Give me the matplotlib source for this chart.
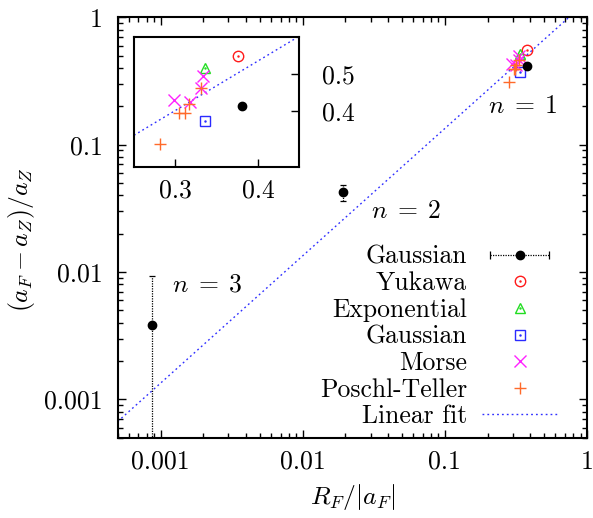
import matplotlib
matplotlib.use('Agg')
import numpy as np
import matplotlib.pyplot as plt
from matplotlib.lines import Line2D
from matplotlib.legend_handler import HandlerLine2D, HandlerTuple
from matplotlib.ticker import NullFormatter

plt.rcParams['font.family'] = ['cmr10', 'DejaVu Serif']
plt.rcParams['mathtext.fontset'] = 'cm'
plt.rcParams['axes.unicode_minus'] = False
plt.rcParams['font.size'] = 18.5

# Gaussian (n = 1, 2, 3) with error bars
gauss_x = [0.381, 0.0192, 0.00087]
gauss_y = [0.415, 0.0423, 0.00385]
gauss_err = [0.0, 0.006, 0.0054]

# n = 1 cluster
yuk_x = [0.376]
yuk_y = [0.549]
exp_x = [0.3355]
exp_y = [0.518]
gsq_x = [0.336]
gsq_y = [0.374]
morse_x = [0.333, 0.331, 0.298, 0.318]
morse_y = [0.495, 0.464, 0.430, 0.425]
pt_x = [0.331, 0.3165, 0.305, 0.312, 0.281]
pt_y = [0.464, 0.419, 0.394, 0.395, 0.311]

fit_slope = 1.34
fit_x_main = [5e-4, 1.0]
fit_x_inset = [0.25, 0.45]

ticks_main = [0.001, 0.01, 0.1, 1]
tick_labels_main = ['0.001', '0.01', '0.1', '1']
ticks_in_x = [0.3, 0.4]
ticks_in_y = [0.4, 0.5]

c_red = '#ff1a1a'
c_green = '#22dd22'
c_blue = '#2a2aff'
c_mag = '#ff22ff'
c_orange = '#ff6a2a'
c_fit = '#3030ff'

fig = plt.figure(figsize=(5.93, 5.18), dpi=100)
ax = fig.add_axes([0.1985, 0.155, 0.7914, 0.8116])


def draw(a):
    eb = a.errorbar(gauss_x, gauss_y, yerr=gauss_err, fmt='o', color='k', ms=6,
                    capsize=2.5, elinewidth=0.9, capthick=0.9, zorder=3)
    eb[2][0].set_linestyle((0, (1, 1)))
    h_yuk = a.plot(yuk_x, yuk_y, 'o', mfc='none', mec=c_red, ms=7.5, mew=1)[0]
    d_yuk = a.plot(yuk_x, yuk_y, '.', color=c_red, ms=1.5)[0]
    h_exp = a.plot(exp_x, exp_y, '^', mfc='none', mec=c_green, ms=7.5, mew=1)[0]
    d_exp = a.plot(exp_x, exp_y, '.', color=c_green, ms=1.5)[0]
    h_gsq = a.plot(gsq_x, gsq_y, 's', mfc='none', mec=c_blue, ms=7, mew=1)[0]
    d_gsq = a.plot(gsq_x, gsq_y, '.', color=c_blue, ms=1.5)[0]
    h_mor = a.plot(morse_x, morse_y, 'x', color=c_mag, ms=8, mew=1)[0]
    h_pt = a.plot(pt_x, pt_y, '+', color=c_orange, ms=9, mew=1)[0]
    return (h_yuk, d_yuk), (h_exp, d_exp), (h_gsq, d_gsq), h_mor, h_pt


fx = np.array(fit_x_main)
h_fit, = ax.plot(fx, fit_slope * fx, color=c_fit, lw=1, ls=(0, (1.3, 2.2)))
hy, he, hg, hm, hp = draw(ax)

ax.set_xscale('log')
ax.set_yscale('log')
ax.set_xlim(5e-4, 1)
ax.set_ylim(5e-4, 1)
ax.set_xticks(ticks_main, tick_labels_main)
ax.set_yticks(ticks_main, tick_labels_main)
ax.xaxis.set_minor_formatter(NullFormatter())
ax.yaxis.set_minor_formatter(NullFormatter())
ax.tick_params(which='both', direction='in', top=True, right=True, width=1)
ax.tick_params(which='major', length=6)
ax.tick_params(which='minor', length=3.5)
ax.tick_params(axis='x', pad=9)
ax.tick_params(axis='y', pad=11)
for s in ax.spines.values():
    s.set_linewidth(1.5)

ax.set_xlabel('$R_F/|a_F|$')
ax.xaxis.set_label_coords(0.5, -0.141)
ax.xaxis.label.set_va('center')
ax.set_ylabel('$(a_F-a_Z)/a_Z$')
ax.yaxis.set_label_coords(-0.205, 0.47)
ax.yaxis.label.set_va('center')

ax.text(0.2, 0.2, r'$n\;=\;1$', va='center')
ax.text(0.03, 0.03, r'$n\;=\;2$', va='center')
ax.text(0.0012, 0.008, r'$n\;=\;3$', va='center')

# legend
cap_line = Line2D([], [], color='k', lw=0.9, ls=(0, (1, 1)), marker='|', ms=6, mew=0.9)
dot = Line2D([], [], color='k', marker='o', ls='none', ms=6)
leg = ax.legend([(cap_line, dot), hy, he, hg, hm, hp, h_fit],
                ['Gaussian', 'Yukawa', 'Exponential', 'Gaussian', 'Morse',
                 'Poschl-Teller', 'Linear fit'],
                handler_map={cap_line: HandlerLine2D(numpoints=2),
                             tuple: HandlerTuple(ndivide=1)},
                markerfirst=False, frameon=False, loc='upper right',
                bbox_to_anchor=(0.936, 0.458), borderpad=0, borderaxespad=0,
                handlelength=2.9, handletextpad=0.6, labelspacing=0.11,
                fontsize=18.5)

# inset
ax_in = fig.add_axes([134 / 593, (518 - 166.7) / 518, 165.3 / 593, 129.4 / 518])
fxi = np.array(fit_x_inset)
ax_in.plot(fxi, fit_slope * fxi, color=c_fit, lw=1, ls=(0, (1.3, 2.2)))
draw(ax_in)
ax_in.set_xlim(0.25, 0.45)
ax_in.set_ylim(0.25, 0.6)
ax_in.set_xticks(ticks_in_x, [str(t) for t in ticks_in_x])
ax_in.set_yticks(ticks_in_y, [str(t) for t in ticks_in_y])
ax_in.yaxis.tick_right()
ax_in.tick_params(direction='in', length=6, width=1)
ax_in.tick_params(axis='x', pad=9)
ax_in.tick_params(axis='y', pad=16)
for s in ax_in.spines.values():
    s.set_linewidth(1.5)

fig.savefig('out.png', dpi=100)
